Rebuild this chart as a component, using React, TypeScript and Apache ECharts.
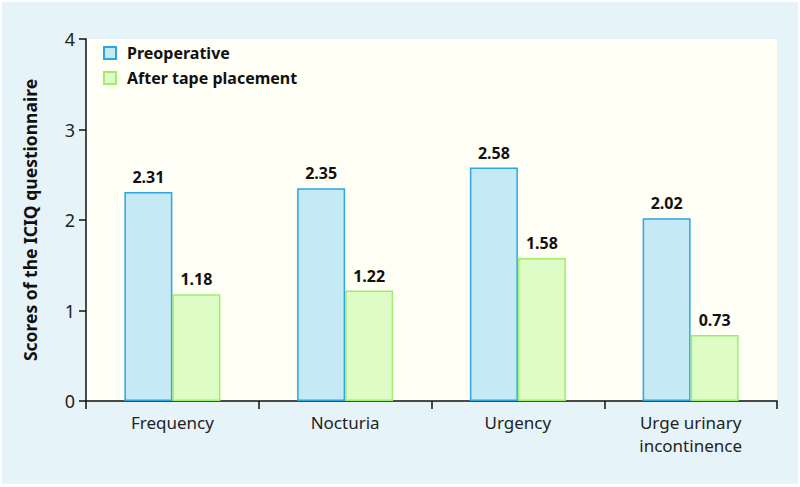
import React, { useEffect, useRef } from "react";
import * as echarts from "echarts";

const categories = ["Frequency", "Nocturia", "Urgency", "Urge urinary\nincontinence"];
const preoperative = [2.31, 2.35, 2.58, 2.02];
const afterTape = [1.18, 1.22, 1.58, 0.73];
const seriesNames = ["Preoperative", "After tape placement"];
const yTicks = [0, 1, 2, 3, 4];

const FONT = "'Noto Sans', 'Open Sans', sans-serif";

export default function App() {
  const ref = useRef<HTMLDivElement>(null);
  useEffect(() => {
    document.body.style.margin = "0";
    if (!ref.current) return;
    const chart = echarts.init(ref.current, null, { renderer: "svg" });
    const labelStyle = {
      show: true,
      position: "top" as const,
      distance: 7,
      fontFamily: FONT,
      fontWeight: "bold" as const,
      fontSize: 16,
      color: "#111",
      formatter: (p: any) => p.value.toFixed(2),
    };
    chart.setOption({
      animation: false,
      backgroundColor: "#ffffff",
      textStyle: { fontFamily: FONT },
      graphic: [
        {
          type: "rect",
          z: -10,
          silent: true,
          shape: { x: 2, y: 2, width: 796, height: 482 },
          style: { fill: "#e6f4f9" },
        },
      ],
      grid: {
        left: 86,
        right: 23,
        top: 39,
        bottom: 86,
        show: true,
        backgroundColor: "#fffff6",
        borderWidth: 0,
      },
      legend: {
        left: 98,
        top: 40,
        orient: "vertical",
        itemWidth: 12,
        itemHeight: 12,
        itemGap: 9,
        icon: "rect",
        textStyle: {
          fontFamily: FONT,
          fontWeight: "bold",
          fontSize: 16,
          color: "#111",
          padding: [0, 0, 0, 6],
        },
        data: seriesNames,
      },
      xAxis: {
        type: "category",
        data: categories,
        boundaryGap: true,
        axisLine: { lineStyle: { color: "#111", width: 1.5 } },
        axisTick: { show: true, length: 8, lineStyle: { color: "#111", width: 1.5 } },
        axisLabel: {
          fontFamily: FONT,
          fontSize: 17,
          color: "#222",
          margin: 10,
          lineHeight: 23,
          interval: 0,
        },
      },
      yAxis: {
        type: "value",
        min: 0,
        max: 4,
        interval: 1,
        name: "Scores of the ICIQ questionnaire",
        nameLocation: "middle",
        nameGap: 47,
        nameTextStyle: { fontFamily: FONT, fontWeight: "bold", fontSize: 17.5, color: "#111" },
        axisLine: { show: true, lineStyle: { color: "#111", width: 1.5 } },
        axisTick: { show: true, length: 7, lineStyle: { color: "#111", width: 1.5 } },
        splitLine: { show: false },
        axisLabel: {
          fontFamily: FONT,
          fontSize: 18,
          color: "#222",
          margin: 11,
          formatter: (v: number) => (yTicks.includes(v) ? String(v) : ""),
        },
      },
      series: [
        {
          name: seriesNames[0],
          type: "bar",
          data: preoperative,
          barWidth: 48,
          barGap: "0%",
          itemStyle: { color: "#c6eaf5", borderColor: "#2ba6e2", borderWidth: 1.5 },
          label: labelStyle,
        },
        {
          name: seriesNames[1],
          type: "bar",
          data: afterTape,
          barWidth: 48,
          itemStyle: { color: "#defcc6", borderColor: "#9cee6c", borderWidth: 1.5 },
          label: labelStyle,
        },
      ],
    });
    return () => chart.dispose();
  }, []);
  return <div ref={ref} style={{ width: 800, height: 487 }} />;
}
